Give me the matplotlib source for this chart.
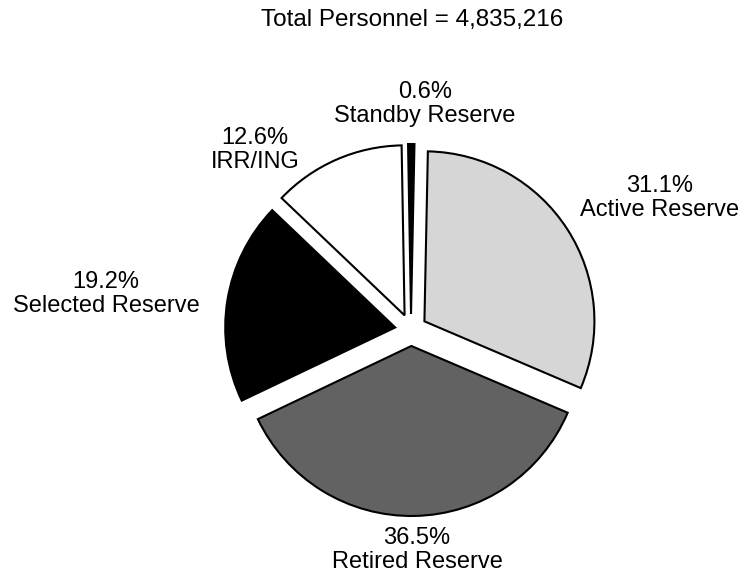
import matplotlib.pyplot as plt

plt.rcParams['font.family'] = ['Liberation Sans', 'DejaVu Sans']

categories = ["Standby Reserve", "Active Reserve", "Retired Reserve", "Selected Reserve", "IRR/ING"]
shares = [0.6, 31.1, 36.5, 19.2, 12.6]
colors = ["#000000", "#d6d6d6", "#626262", "#000000", "#ffffff"]
title = "Total Personnel = 4,835,216"

# label positions in figure pixels (x, y from top)
label_pos = [(425, 104), (660, 198), (417, 550), (106, 294), (255, 150)]

fig = plt.figure(figsize=(7.47, 5.76), dpi=100)
W, H = 747, 576
r_px = 170
cx, cy = 411, 330
h = 2.6 * r_px / H
w = h * H / W
ax = fig.add_axes([cx / W - w / 2, (H - cy) / H - h / 2, w, h])

ax.pie(shares, colors=colors, startangle=91, counterclock=False,
       explode=[0.094] * len(shares),
       wedgeprops=dict(edgecolor="black", linewidth=1.5))
ax.set_xlim(-1.3, 1.3)
ax.set_ylim(-1.3, 1.3)
ax.set_aspect("equal")
ax.axis("off")

for name, val, (x, y) in zip(categories, shares, label_pos):
    fig.text(x / W, 1 - y / H, f"{val:.1f}%\n{name}", ha="center", va="center",
             fontsize=17, linespacing=1.1)

fig.text(412 / W, 1 - 20 / H, title, ha="center", va="center", fontsize=17.5)

fig.savefig("out.png", dpi=100)
